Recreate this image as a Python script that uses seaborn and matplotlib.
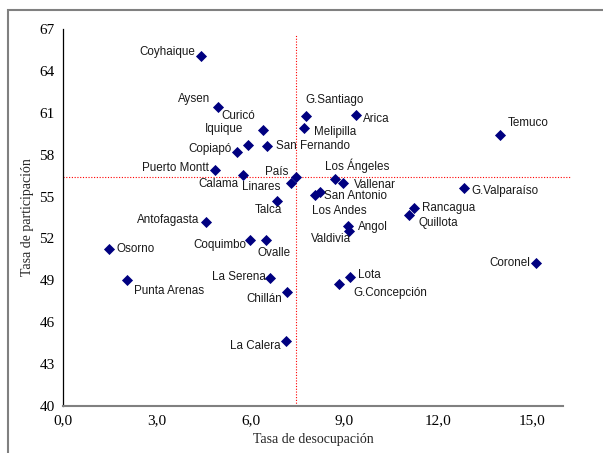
import numpy as np
import pandas as pd
import matplotlib
matplotlib.use('Agg')
import matplotlib.pyplot as plt
import seaborn as sns
from matplotlib.patches import Rectangle

# Tasa de desocupación (x) y tasa de participación (y) por ciudad
cities = ['Coyhaique', 'Aysen', 'Curicó', 'Iquique', 'San Fernando', 'Copiapó',
          'Puerto Montt', 'Calama', 'País', 'Linares', 'Talca', 'Antofagasta',
          'G.Santiago', 'Arica', 'Melipilla', 'Temuco', 'Los Ángeles', 'Vallenar',
          'San Antonio', 'Los Andes', 'G.Valparaíso', 'Rancagua', 'Quillota',
          'Osorno', 'Coquimbo', 'Ovalle', 'Punta Arenas', 'La Serena', 'Chillán',
          'La Calera', 'Angol', 'Valdivia', 'Coronel', 'Lota', 'G.Concepción']
desocupacion = [4.43, 4.95, 6.41, 5.92, 6.53, 5.58,
                4.85, 5.75, 7.47, 7.31, 6.84, 4.59,
                7.79, 9.36, 7.70, 13.99, 8.69, 8.97,
                8.21, 8.05, 12.82, 11.23, 11.08,
                1.46, 5.98, 6.48, 2.05, 6.62, 7.16,
                7.12, 9.12, 9.16, 15.13, 9.19, 8.84]
participacion = [65.07, 61.44, 59.79, 58.72, 58.62, 58.17,
                 56.91, 56.57, 56.40, 56.00, 54.71, 53.18,
                 60.80, 60.87, 59.91, 59.41, 56.26, 55.97,
                 55.33, 55.09, 55.62, 54.16, 53.70,
                 51.27, 51.91, 51.91, 49.00, 49.17, 48.17,
                 44.63, 52.92, 52.54, 50.27, 49.26, 48.72]

# label offsets in pixels (dx, dy) and alignment
label_pos = {
    'Coyhaique': (-6, 4, 'right'), 'Aysen': (-7, 8, 'right'), 'Curicó': (-8, 14, 'right'),
    'Iquique': (-5, 16, 'right'), 'San Fernando': (9, 0, 'left'), 'Copiapó': (-6, 3, 'right'),
    'Puerto Montt': (-6, 2, 'right'), 'Calama': (-4, -9, 'right'), 'País': (-8, 5, 'right'),
    'Linares': (-11, -4, 'right'), 'Talca': (5, -9, 'right'), 'Antofagasta': (-7, 2, 'right'),
    'G.Santiago': (-1, 16, 'left'), 'Arica': (7, -4, 'left'), 'Melipilla': (10, -4, 'left'),
    'Temuco': (8, 12, 'left'), 'Los Ángeles': (-10, 13, 'left'), 'Vallenar': (11, -2, 'left'),
    'San Antonio': (4, -4, 'left'), 'Los Andes': (-3, -16, 'left'), 'G.Valparaíso': (8, -3, 'left'),
    'Rancagua': (8, 0, 'left'), 'Quillota': (9, -8, 'left'), 'Osorno': (8, 0, 'left'),
    'Coquimbo': (-4, -5, 'right'), 'Ovalle': (-8, -13, 'left'), 'Punta Arenas': (7, -11, 'left'),
    'La Serena': (-4, 1, 'right'), 'Chillán': (-5, -7, 'right'), 'La Calera': (-5, -5, 'right'),
    'Angol': (10, -1, 'left'), 'Valdivia': (2, -8, 'right'), 'Coronel': (-6, 0, 'right'),
    'Lota': (8, 2, 'left'), 'G.Concepción': (14, -9, 'left'),
}

x_ticks = [0, 3, 6, 9, 12, 15]
y_ticks = [40, 43, 46, 49, 52, 55, 58, 61, 64, 67]

df = pd.DataFrame({'city': cities, 'x': desocupacion, 'y': participacion})
pais = df[df.city == 'País'].iloc[0]

sns.set_style('white')
plt.rcParams['font.family'] = ['Liberation Sans', 'DejaVu Sans']

fig = plt.figure(figsize=(6.03, 4.53), dpi=100)
ax = fig.add_axes([63 / 603, 1 - 406 / 453, 500 / 603, 377 / 453])

# reference lines through the national value
ax.plot([pais.x, pais.x], [40, 66.57], color='red', linestyle=(0, (1, 1.5)),
        linewidth=0.8, zorder=1)
ax.plot([0, 16.27], [pais.y, pais.y], color='red', linestyle=(0, (1, 1.5)),
        linewidth=0.8, zorder=1, clip_on=False)

sns.scatterplot(data=df, x='x', y='y', marker='D', s=32, color='#000080',
                edgecolor='#000080', linewidth=0, ax=ax, zorder=3)

for c, xv, yv in zip(cities, desocupacion, participacion):
    dx, dy, ha = label_pos[c]
    ax.annotate(c, (xv, yv), xytext=(dx, dy), textcoords='offset pixels',
                ha=ha, va='center', fontsize=8.4, color='#1a1a1a')

ax.set_xlim(0, 16)
ax.set_ylim(40, 67)
ax.set_xticks(x_ticks)
ax.set_xticklabels([f'{t:.1f}'.replace('.', ',') for t in x_ticks])
ax.set_yticks(y_ticks)
ax.set_yticklabels([str(t) for t in y_ticks])

serif_family = ['Liberation Serif', 'DejaVu Serif']
for lab in ax.get_xticklabels() + ax.get_yticklabels():
    lab.set_fontfamily(serif_family)
    lab.set_fontsize(11)
ax.set_xlabel('Tasa de desocupación', family=serif_family, fontsize=10, va='center')
ax.set_ylabel('Tasa de participación', family=serif_family, fontsize=10, va='center')
ax.xaxis.set_label_coords(0.5, -33 / 377)
ax.yaxis.set_label_coords(-36 / 500, 0.5)

ax.tick_params(axis='both', direction='out', length=4, width=0.8, colors='black')
ax.tick_params(axis='x', color='#808080', pad=2)
ax.tick_params(axis='y', pad=2)
ax.spines['top'].set_visible(False)
ax.spines['right'].set_visible(False)
ax.spines['left'].set_color('black')
ax.spines['left'].set_linewidth(0.9)
ax.spines['bottom'].set_color('#808080')
ax.spines['bottom'].set_linewidth(1.5)

# chart area border
fig.patches.append(Rectangle((8 / 603, -0.05), 1.1, 1 - 10 / 453 + 0.05,
                             transform=fig.transFigure, fill=False,
                             edgecolor='#808080', linewidth=1.5))

fig.savefig('out.png', dpi=100)
